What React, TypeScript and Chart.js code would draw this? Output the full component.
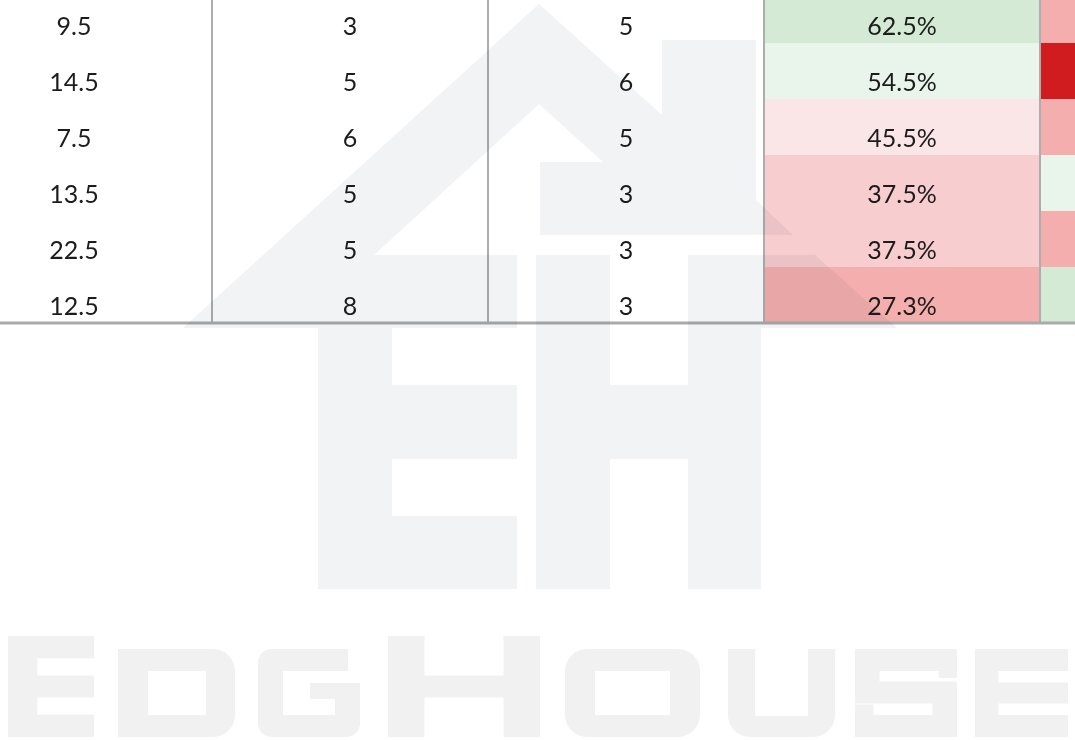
import React, { useEffect, useRef } from "react";
import { Chart, registerables } from "chart.js";

Chart.register(...registerables);

// ---- data ----
const rowIds = ["r1", "r2", "r3", "r4", "r5", "r6"];
const col1Values = [9.5, 14.5, 7.5, 13.5, 22.5, 12.5];
const col2Values = [3, 5, 6, 5, 5, 8];
const col3Values = [5, 6, 5, 3, 3, 3];
const col4Values = [62.5, 54.5, 45.5, 37.5, 37.5, 27.3];
const col4Colors = ["#d4ead4", "#e9f4ea", "#fbe6e7", "#f8cdcf", "#f8cdcf", "#f5aeae"];
const col5Colors = ["#f5aeae", "#d01c1e", "#f5aeae", "#e9f4ea", "#f5aeae", "#d4ead4"];
const plainColors = rowIds.map(() => "#ffffff");

// ---- layout of the visible window (column / row units) ----
const COL_PX = 276;
const ROW_PX = 56;
const W = 1075;
const H = 740;
const xMin = 64 / COL_PX;
const xMax = xMin + W / COL_PX;
const yMin = 13 / ROW_PX;
const yMax = yMin + H / ROW_PX;

const columnTexts: string[][] = [
  col1Values.map((v) => String(v)),
  col2Values.map((v) => String(v)),
  col3Values.map((v) => String(v)),
  col4Values.map((v) => v.toFixed(1) + "%"),
];
const columnColors = [plainColors, plainColors, plainColors, col4Colors, col5Colors];

const bgPlugin = {
  id: "bgWhite",
  beforeDraw(chart: any) {
    const { ctx } = chart;
    ctx.save();
    ctx.fillStyle = "#ffffff";
    ctx.fillRect(0, 0, chart.width, chart.height);
    ctx.restore();
  },
};

const tablePlugin = {
  id: "tableText",
  afterDatasetsDraw(chart: any) {
    const { ctx } = chart;
    const xs = chart.scales.x;
    const ys = chart.scales.y;
    ctx.save();
    ctx.font = "25px Lato";
    ctx.fillStyle = "#1c1c1c";
    ctx.textAlign = "center";
    ctx.textBaseline = "alphabetic";
    columnTexts.forEach((col, c) => {
      col.forEach((t, k) => {
        const x = xs.getPixelForValue(c + 0.5);
        const yTop = ys.getPixelForValue(k);
        ctx.fillText(t, x, yTop + 48);
      });
    });
    const yStart = ys.getPixelForValue(yMin);
    const yEnd = ys.getPixelForValue(rowIds.length);
    ctx.strokeStyle = "#adadad";
    ctx.lineWidth = 2;
    for (let c = 1; c <= 4; c++) {
      const x = xs.getPixelForValue(c);
      ctx.beginPath();
      ctx.moveTo(x, yStart);
      ctx.lineTo(x, yEnd);
      ctx.stroke();
    }
    ctx.strokeStyle = "#aaaaaa";
    ctx.lineWidth = 3;
    ctx.beginPath();
    ctx.moveTo(0, yEnd);
    ctx.lineTo(chart.width, yEnd);
    ctx.stroke();
    ctx.restore();
  },
};

type Box = [number, number, number, number]; // x0, y0, w, h

function letterRects(ch: string, b: Box): Box[] {
  const [x, y, w, h] = b;
  switch (ch) {
    case "E1": {
      const s = w * 0.34;
      return [
        [x, y, s, h],
        [x + s, y, w - s, h * 0.22],
        [x + s, y + h * 0.39, w - s, h * 0.22],
        [x + s, y + h * 0.78, w - s, h * 0.22],
      ];
    }
    case "E2": {
      const s = w * 0.25;
      return [
        [x, y, s, h],
        [x + s, y, w - s, h * 0.25],
        [x + s, y + h * 0.38, w - s, h * 0.24],
        [x + s, y + h * 0.75, w - s, h * 0.25],
      ];
    }
    case "H": {
      const s = w * 0.24;
      return [
        [x, y, s, h],
        [x + w - s, y, s, h],
        [x + s, y + h * 0.39, w - 2 * s, h * 0.22],
      ];
    }
    case "S": {
      const s = w * 0.24;
      return [
        [x, y, w, h * 0.25],
        [x, y + h * 0.25, s, h * 0.12],
        [x + w * 0.82, y + h * 0.25, w * 0.18, h * 0.08],
        [x, y + h * 0.37, w, h * 0.25],
        [x + w - s, y + h * 0.62, s, h * 0.13],
        [x, y + h * 0.63, w * 0.18, h * 0.12],
        [x, y + h * 0.75, w, h * 0.25],
      ];
    }
    default:
      return [];
  }
}

function drawWatermark(ctx: CanvasRenderingContext2D) {
  ctx.save();
  ctx.globalCompositeOperation = "multiply";
  ctx.fillStyle = "#f2f3f5";
  ctx.beginPath();
  const roof = [
    [539, 4], [662, 115], [662, 40], [756, 40], [756, 200], [793, 235],
    [540, 235], [540, 162], [603, 162], [539, 104], [374, 255], [517, 255],
    [517, 328], [183, 328],
  ];
  roof.forEach(([px, py], i) => (i === 0 ? ctx.moveTo(px, py) : ctx.lineTo(px, py)));
  ctx.closePath();
  const eave = [[761, 255], [815, 255], [897, 328], [761, 328]];
  eave.forEach(([px, py], i) => (i === 0 ? ctx.moveTo(px, py) : ctx.lineTo(px, py)));
  ctx.closePath();
  const ehRects: Box[] = [
    [318, 328, 74, 261],
    [392, 385, 125, 74],
    [392, 516, 125, 73],
    [536, 255, 74, 334],
    [688, 255, 73, 334],
    [610, 385, 78, 74],
  ];
  ehRects.forEach((r) => ctx.rect(r[0], r[1], r[2], r[3]));
  ctx.fill();

  ctx.fillStyle = "#f1f1f1";
  const tallTop = 636, shortTop = 649, bottom = 737;
  const th = bottom - tallTop, sh = bottom - shortTop;
  const rectLetters: [string, Box][] = [
    ["E1", [8, tallTop, 86, th]],
    ["H", [388, tallTop, 152, th]],
    ["S", [855, shortTop, 102, sh]],
    ["E2", [975, shortTop, 93, sh]],
  ];
  ctx.beginPath();
  rectLetters.forEach(([ch, b]) => letterRects(ch, b).forEach((r) => ctx.rect(r[0], r[1], r[2], r[3])));
  ctx.fill();

  const holeShape = (x: number, y: number, w: number, h: number, radii: number[], hole: Box) => {
    ctx.beginPath();
    (ctx as any).roundRect(x, y, w, h, radii);
    ctx.rect(hole[0], hole[1], hole[2], hole[3]);
    ctx.fill("evenodd");
  };
  // D
  holeShape(118, shortTop, 117, sh, [0, 22, 22, 0], [118 + 30, shortTop + 22, 58, sh - 44]);
  // O
  holeShape(565, shortTop, 135, sh, [22, 22, 22, 22], [565 + 30, shortTop + 22, 75, sh - 44]);
  // U
  holeShape(728, shortTop, 107, sh, [0, 0, 22, 22], [728 + 27, shortTop, 53, sh - 21]);
  // G (single non-zero path: pieces may touch without darkening)
  ctx.beginPath();
  (ctx as any).roundRect(258, shortTop, 90, 22, [14, 0, 0, 0]);
  ctx.rect(258, shortTop + 11, 25, sh - 22);
  (ctx as any).roundRect(258, bottom - 22, 102, 22, [0, 0, 14, 14]);
  ctx.rect(335, shortTop + 34, 25, sh - 45);
  ctx.rect(310, shortTop + 34, 26, 16);
  ctx.fill("nonzero");
  ctx.restore();
}

const watermarkPlugin = {
  id: "watermark",
  afterDraw(chart: any) {
    drawWatermark(chart.ctx);
  },
};

export default function App() {
  const ref = useRef<HTMLCanvasElement>(null);
  useEffect(() => {
    document.body.style.margin = "0";
    const canvas = ref.current;
    if (!canvas) return;
    const datasets = columnColors.map((colors, c) => ({
      label: "col" + (c + 1),
      data: rowIds.map((_, k) => ({ y: k + 0.5, x: [c, c + 1] })),
      backgroundColor: colors,
      borderWidth: 0,
      inflateAmount: 0,
      grouped: false,
      barPercentage: 1,
      categoryPercentage: 1,
    }));
    const chart = new Chart(canvas, {
      type: "bar",
      data: { datasets: datasets as any },
      options: {
        indexAxis: "y",
        responsive: false,
        animation: false,
        events: [],
        layout: { padding: 0 },
        plugins: { legend: { display: false }, tooltip: { enabled: false } },
        scales: {
          x: { type: "linear", min: xMin, max: xMax, display: false, offset: false },
          y: {
            type: "linear",
            min: yMin,
            max: yMax,
            reverse: true,
            display: false,
            offset: false,
            grid: { offset: false },
            ticks: { stepSize: 1, includeBounds: false },
          },
        },
      },
      plugins: [bgPlugin, tablePlugin, watermarkPlugin],
    } as any);
    return () => chart.destroy();
  }, []);
  return (
    <div style={{ width: W, height: H }}>
      <canvas ref={ref} width={W} height={H} style={{ display: "block", width: W, height: H }} />
    </div>
  );
}
